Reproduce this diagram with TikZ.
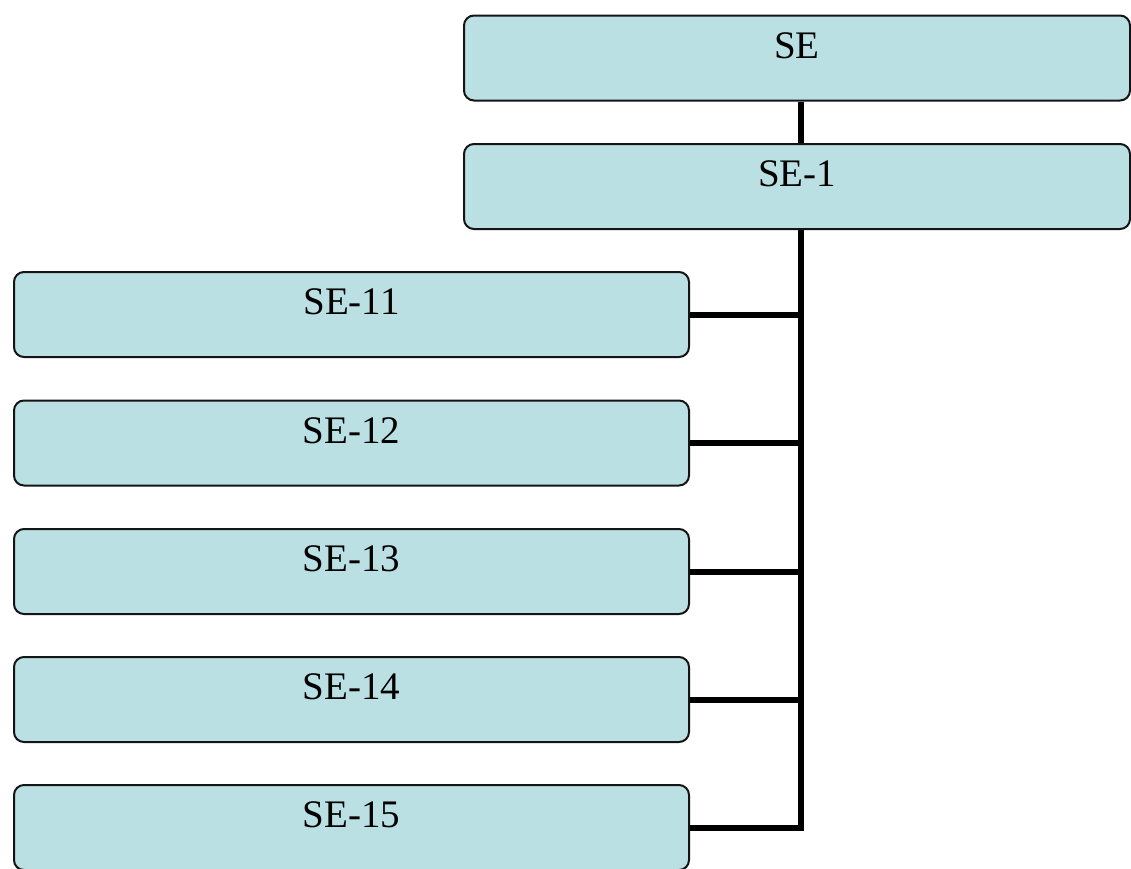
\documentclass[tikz,border=0pt]{standalone}
\usepackage{fontspec}
\setmainfont{Liberation Serif}
\definecolor{boxfill}{RGB}{187,224,227}
\definecolor{boxline}{RGB}{20,20,20}
\tikzset{
  sebox/.style={draw=boxline, line width=2pt, fill=boxfill, rounded corners=10pt,
    minimum height=85pt, inner sep=0pt, text height=0pt, text depth=0pt,
    font=\fontsize{39}{41}\selectfont},
  rbox/.style={sebox, minimum width=666pt},
  lbox/.style={sebox, minimum width=675pt},
  conn/.style={draw=black, line width=6pt, line join=miter}
}
\begin{document}
\begin{tikzpicture}[x=1pt,y=-1pt]
\useasboundingbox (0,0) rectangle (1131,868);
\coordinate (trunk) at (801,0);
\node[rbox] (SE)   at (797,58)    {SE};
\node[rbox] (SE1)  at (797,186.5) {SE-1};
\node[lbox] (SE11) at (351.5,314.5) {SE-11};
\node[lbox] (SE12) at (351.5,443)   {SE-12};
\node[lbox] (SE13) at (351.5,571.5) {SE-13};
\node[lbox] (SE14) at (351.5,699.5) {SE-14};
\node[lbox] (SE15) at (351.5,827.5) {SE-15};
\coordinate (bot) at (trunk |- SE15.east);
\draw[conn] (SE.south -| trunk) -- (SE1.north -| trunk);
\draw[conn] (SE1.south -| trunk) -- (bot) -- (SE15.east);
\draw[conn] (SE11.east) -- (SE11.east -| trunk);
\draw[conn] (SE12.east) -- (SE12.east -| trunk);
\draw[conn] (SE13.east) -- (SE13.east -| trunk);
\draw[conn] (SE14.east) -- (SE14.east -| trunk);
\end{tikzpicture}
\end{document}
